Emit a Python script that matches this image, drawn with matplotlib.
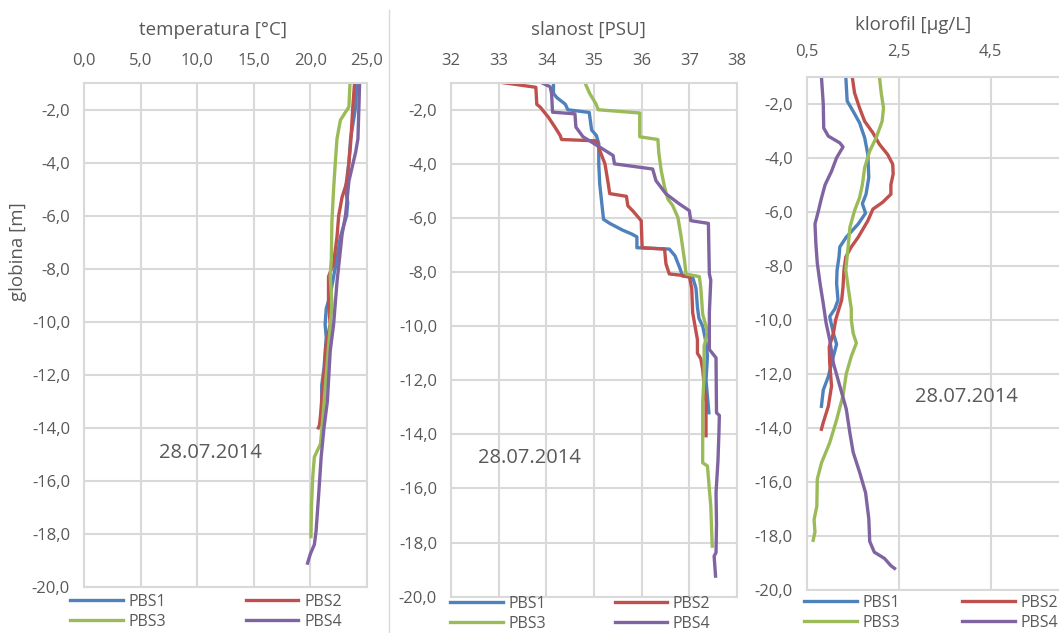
import matplotlib
matplotlib.use('Agg')
import matplotlib.pyplot as plt
import matplotlib.ticker as mticker
from matplotlib.lines import Line2D

plt.rcParams['font.family'] = ['Open Sans', 'DejaVu Sans']

# --- data (depth in m, negative downwards) ---
series_names = ['PBS1', 'PBS2', 'PBS3', 'PBS4']

temp_pbs1_depth = [-1.0, -1.9, -3.1, -4.0, -5.0, -5.5, -6.0, -6.8, -7.6, -8.3, -9.0, -9.5, -10.1, -10.6, -11.75, -12.4, -13.2]
temp_pbs1 = [24.1, 24.0, 23.55, 23.4, 23.1, 23.3, 23.2, 22.65, 22.35, 22.05, 21.75, 21.4, 21.3, 21.4, 21.2, 21.0, 21.0]
temp_pbs2_depth = [-1.0, -1.9, -3.3, -4.7, -5.3, -6.0, -6.8, -7.8, -8.3, -9.3, -10.1, -10.5, -11.0, -11.5, -12.4, -13.5, -13.9, -14.0]
temp_pbs2 = [23.9, 23.75, 23.55, 23.25, 22.8, 22.5, 22.35, 22.05, 21.6, 21.6, 21.75, 21.55, 21.35, 21.3, 21.1, 20.9, 20.8, 20.7]
temp_pbs3_depth = [-1.0, -1.9, -2.4, -3.1, -4.0, -5.0, -6.2, -7.6, -8.3, -9.3, -9.9, -12.0, -13.1, -14.6, -15.1, -15.9, -16.9, -18.1]
temp_pbs3 = [23.5, 23.4, 22.65, 22.35, 22.2, 22.05, 21.9, 21.85, 21.75, 21.9, 21.8, 21.4, 21.2, 20.9, 20.35, 20.2, 20.1, 20.05]
temp_pbs4_depth = [-1.0, -3.1, -3.6, -4.7, -6.0, -6.7, -7.3, -8.5, -10.1, -11.1, -13.0, -14.0, -15.1, -16.4, -17.9, -18.4, -18.75, -19.1]
temp_pbs4 = [24.35, 24.2, 24.0, 23.4, 23.1, 22.8, 22.65, 22.35, 22.05, 21.75, 21.5, 21.2, 20.95, 20.75, 20.5, 20.35, 20.0, 19.75]

sal_pbs1_depth = [-1.0, -1.4, -1.55, -1.8, -2.0, -2.1, -2.75, -2.95, -3.25, -4.0, -4.75, -6.05, -6.2, -6.45, -6.6, -6.7, -7.1, -7.15, -7.4, -7.85, -8.15, -8.2, -8.6, -9.3, -9.7, -10.0, -10.6, -11.1, -12.0, -12.6, -13.2]
sal_pbs1 = [34.15, 34.15, 34.22, 34.4, 34.45, 34.9, 34.95, 35.05, 35.1, 35.1, 35.12, 35.2, 35.33, 35.6, 35.8, 35.9, 35.9, 36.58, 36.7, 36.8, 36.86, 37.07, 37.14, 37.17, 37.2, 37.28, 37.35, 37.38, 37.35, 37.38, 37.41]
sal_pbs2_depth = [-1.0, -1.1, -1.17, -1.8, -1.9, -2.27, -2.64, -2.95, -3.1, -3.15, -3.5, -4.0, -4.75, -5.1, -5.2, -5.55, -5.75, -6.1, -7.1, -7.15, -7.7, -8.07, -8.15, -8.6, -9.5, -10.0, -10.5, -11.0, -11.2, -11.6, -12.15, -12.8, -14.05]
sal_pbs2 = [33.1, 33.5, 33.78, 33.8, 33.87, 34.04, 34.18, 34.29, 34.32, 35.05, 35.12, 35.23, 35.3, 35.33, 35.68, 35.71, 35.82, 35.99, 36.01, 36.48, 36.51, 36.58, 37.0, 37.05, 37.07, 37.12, 37.17, 37.17, 37.24, 37.28, 37.31, 37.35, 37.35]
sal_pbs3_depth = [-1.0, -1.4, -1.78, -2.0, -2.12, -3.0, -3.1, -3.6, -4.25, -4.86, -5.3, -5.54, -5.98, -6.72, -7.58, -8.07, -8.17, -8.57, -9.56, -10.0, -10.25, -10.74, -11.8, -12.83, -15.05, -15.17, -16.03, -16.65, -18.13]
sal_pbs3 = [34.81, 34.91, 35.04, 35.09, 35.96, 35.96, 36.34, 36.36, 36.41, 36.48, 36.55, 36.65, 36.76, 36.83, 36.9, 36.93, 37.21, 37.24, 37.28, 37.35, 37.38, 37.31, 37.31, 37.28, 37.28, 37.38, 37.42, 37.45, 37.48]
sal_pbs4_depth = [-1.0, -1.15, -1.4, -2.09, -2.15, -2.64, -3.0, -3.38, -3.69, -4.0, -4.19, -4.62, -5.11, -5.48, -5.73, -6.1, -6.2, -8.07, -8.3, -9.5, -10.86, -11.17, -13.2, -13.3, -14.0, -15.0, -16.16, -17.3, -18.37, -18.5, -19.24]
sal_pbs4 = [33.9, 34.08, 34.11, 34.13, 34.6, 34.62, 34.77, 35.12, 35.4, 35.43, 36.23, 36.3, 36.51, 36.79, 37.0, 37.03, 37.4, 37.42, 37.45, 37.42, 37.42, 37.56, 37.57, 37.63, 37.62, 37.6, 37.56, 37.57, 37.56, 37.52, 37.55]

chl_pbs1_depth = [-1.0, -1.9, -2.28, -2.71, -3.26, -3.88, -4.73, -5.35, -5.7, -6.05, -6.45, -6.94, -7.3, -7.7, -8.16, -8.65, -9.27, -9.6, -9.88, -10.5, -10.9, -11.35, -12.1, -12.6, -13.2]
chl_pbs1 = [1.35, 1.38, 1.51, 1.65, 1.76, 1.83, 1.85, 1.79, 1.71, 1.78, 1.62, 1.36, 1.22, 1.2, 1.16, 1.15, 1.18, 1.11, 1.0, 1.08, 1.15, 1.08, 0.97, 0.86, 0.82]
chl_pbs2_depth = [-1.0, -1.6, -2.16, -2.65, -3.08, -3.5, -3.88, -4.24, -4.6, -5.0, -5.35, -5.65, -5.9, -6.33, -6.94, -7.3, -7.67, -8.16, -8.78, -9.27, -9.6, -10.0, -10.5, -11.0, -11.6, -12.45, -13.2, -13.8, -14.05]
chl_pbs2 = [1.49, 1.54, 1.65, 1.76, 1.94, 2.08, 2.26, 2.37, 2.38, 2.33, 2.33, 2.15, 1.94, 1.83, 1.62, 1.47, 1.35, 1.31, 1.29, 1.26, 1.2, 1.13, 1.08, 0.99, 1.0, 1.04, 0.97, 0.86, 0.82]
chl_pbs3_depth = [-1.0, -1.6, -2.16, -2.65, -3.26, -3.75, -4.37, -5.0, -5.47, -5.96, -6.57, -7.3, -8.16, -8.78, -9.6, -10.0, -10.5, -10.86, -11.35, -12.0, -12.8, -13.7, -14.55, -15.3, -15.9, -16.9, -17.4, -17.85, -18.16]
chl_pbs3 = [2.08, 2.12, 2.17, 2.14, 2.01, 1.87, 1.76, 1.71, 1.65, 1.54, 1.44, 1.4, 1.35, 1.4, 1.47, 1.47, 1.51, 1.58, 1.47, 1.36, 1.29, 1.15, 1.0, 0.82, 0.73, 0.72, 0.66, 0.68, 0.64]
chl_pbs4_depth = [-1.0, -2.0, -2.9, -3.2, -3.45, -3.6, -4.0, -4.5, -5.0, -5.5, -6.0, -6.45, -7.2, -7.9, -8.65, -9.4, -10.1, -10.74, -11.6, -12.45, -13.3, -14.2, -14.9, -15.64, -16.4, -17.36, -18.2, -18.6, -18.83, -19.1, -19.2]
chl_pbs4 = [0.82, 0.86, 0.87, 0.97, 1.22, 1.29, 1.15, 1.04, 0.9, 0.82, 0.75, 0.68, 0.7, 0.73, 0.79, 0.86, 0.92, 1.0, 1.08, 1.22, 1.36, 1.44, 1.51, 1.65, 1.78, 1.85, 1.87, 1.97, 2.19, 2.33, 2.41]

temp_ticks = [0.0, 5.0, 10.0, 15.0, 20.0, 25.0]
sal_ticks = [32, 33, 34, 35, 36, 37, 38]
chl_ticks = [0.5, 2.5, 4.5]  # the 6,5 gridline falls outside the cropped picture
date_label = '28.07.2014'

colors = ['#4F81BD', '#C0504D', '#9BBB59', '#8064A2']
grey_text = '#595959'
grid_col = '#D9D9D9'

W, H = 1059, 633


def fx(px):  # pixel -> figure fraction
    return px / W


def fy(py):
    return 1 - py / H


def comma(fmt):
    return mticker.FuncFormatter(lambda v, pos: (fmt % v).replace('.', ','))


def draw_panel(rect, depths, values, xlim, xticks, xfmt):
    ax = fig.add_axes(rect)
    lines = []
    for d, v, c, name in zip(depths, values, colors, series_names):
        ln, = ax.plot(v, d, color=c, lw=2.4, label=name, solid_joinstyle='round')
        lines.append(ln)
    ax.set_xlim(*xlim)
    ax.set_ylim(-20, -1)
    ax.xaxis.tick_top()
    ax.set_xticks(xticks)
    ax.xaxis.set_major_formatter(comma(xfmt))
    ax.yaxis.set_major_locator(mticker.MultipleLocator(2))
    ax.yaxis.set_major_formatter(comma('%.1f'))
    ax.tick_params(axis='both', length=0, labelsize=12, colors=grey_text)
    ax.tick_params(axis='x', pad=10)
    ax.tick_params(axis='y', pad=10)
    ax.grid(True, color=grid_col, lw=1.5)
    ax.set_axisbelow(True)
    for s in ax.spines.values():
        s.set_color(grid_col)
        s.set_linewidth(1.5)
    return ax, lines


def add_legend(lines, x, y, colspace):
    # Excel puts the entries row by row: PBS1 PBS2 / PBS3 PBS4
    order = [lines[0], lines[2], lines[1], lines[3]]
    fig.legend(order, [l.get_label() for l in order], loc='upper left',
               bbox_to_anchor=(fx(x), fy(y)), ncol=2, frameon=False,
               fontsize=11.5, handlelength=3.3, handletextpad=0.35,
               columnspacing=colspace, labelspacing=0.22, borderpad=0,
               borderaxespad=0, labelcolor=grey_text)


fig = plt.figure(figsize=(W / 100, H / 100), dpi=100)

# temperature
ax1, l1 = draw_panel([fx(84), fy(587), fx(283), 504 / H],
                     [temp_pbs1_depth, temp_pbs2_depth, temp_pbs3_depth, temp_pbs4_depth],
                     [temp_pbs1, temp_pbs2, temp_pbs3, temp_pbs4],
                     (0, 25), temp_ticks, '%.1f')
fig.text(fx(18), fy(252), 'globina [m]', rotation=90, ha='center', va='center', fontsize=13.5, color=grey_text)
fig.text(fx(213), fy(30), 'temperatura [°C]', ha='center', va='center', fontsize=13.5, color=grey_text)
fig.text(fx(210), fy(453), date_label, ha='center', va='center', fontsize=14.5, color=grey_text)
add_legend(l1, 70, 594, 5.0)

# salinity
ax2, l2 = draw_panel([fx(451), fy(596.7), fx(286), 514 / H],
                     [sal_pbs1_depth, sal_pbs2_depth, sal_pbs3_depth, sal_pbs4_depth],
                     [sal_pbs1, sal_pbs2, sal_pbs3, sal_pbs4],
                     (32, 38), sal_ticks, '%d')
fig.text(fx(588), fy(30), 'slanost [PSU]', ha='center', va='center', fontsize=13.5, color=grey_text)
fig.text(fx(529), fy(458), date_label, ha='center', va='center', fontsize=14.5, color=grey_text)
add_legend(l2, 450, 596, 4.3)

# chlorophyll (the right edge of this chart is cut off in the original)
ax3, l3 = draw_panel([fx(806.7), fy(590), fx(276), 513.3 / H],
                     [chl_pbs1_depth, chl_pbs2_depth, chl_pbs3_depth, chl_pbs4_depth],
                     [chl_pbs1, chl_pbs2, chl_pbs3, chl_pbs4],
                     (0.5, 6.5), chl_ticks, '%.1f')
ax3.tick_params(axis='x', pad=12)
fig.text(fx(913), fy(25), 'klorofil [µg/L]', ha='center', va='center', fontsize=13.5, color=grey_text)
fig.text(fx(966), fy(397), date_label, ha='center', va='center', fontsize=14.5, color=grey_text)
add_legend(l3, 804, 595, 3.9)

# thin border between the first two charts
fig.add_artist(Line2D([fx(389), fx(389)], [fy(10), 0], color=grid_col, lw=1))

fig.savefig('out.png', dpi=100)
